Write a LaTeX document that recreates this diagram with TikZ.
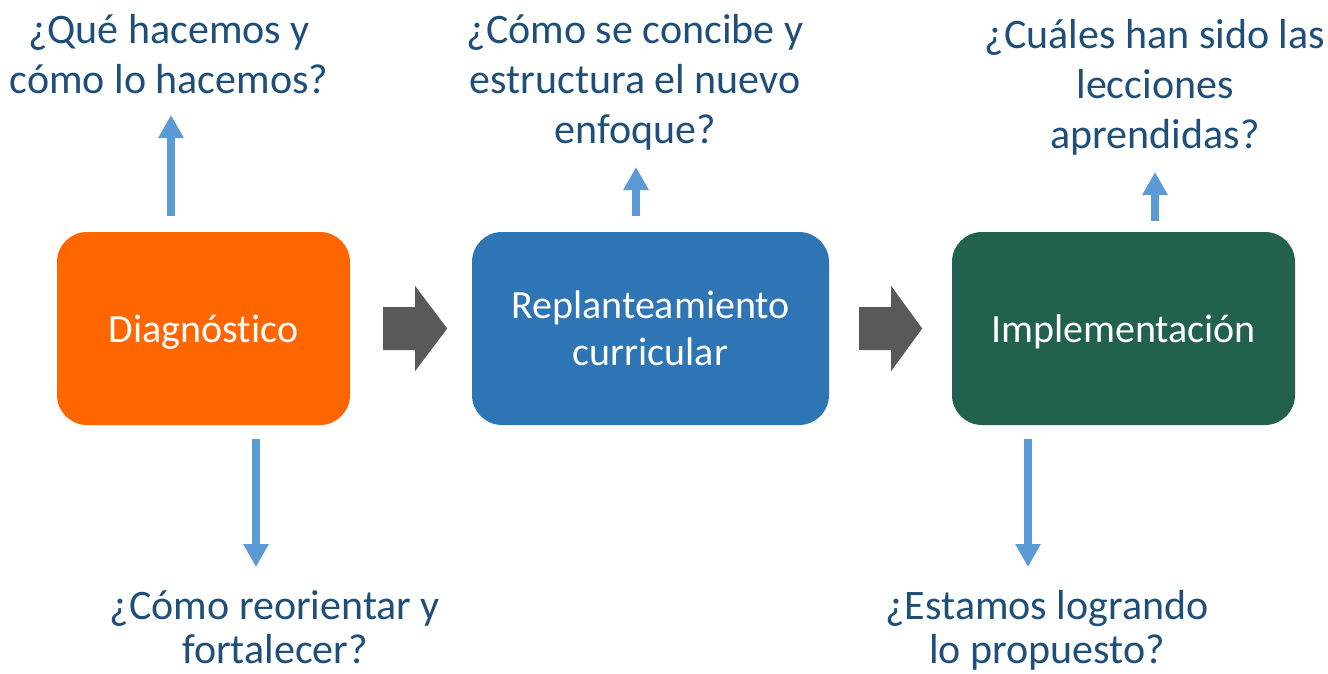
\documentclass[tikz,border=0pt]{standalone}
\usepackage{fontspec}
\setmainfont{Carlito}[Ligatures=NoCommon]
\usetikzlibrary{arrows.meta,calc}
\definecolor{orng}{HTML}{FF6600}
\definecolor{blu}{HTML}{2E75B6}
\definecolor{grn}{HTML}{21614D}
\definecolor{gry}{HTML}{595959}
\definecolor{lblu}{HTML}{5B9BD5}
\definecolor{txtb}{HTML}{1F4E79}
\begin{document}
\begin{tikzpicture}[x=1pt,y=-1pt,
  stage/.style={rounded corners=30pt, minimum height=193pt, inner sep=0pt,
    text=white, font=\fontsize{40}{47}\selectfont, align=center},
  question/.style={text=txtb, font=\fontsize{42}{50}\selectfont, align=center,
    inner sep=0pt, anchor=base},
  qarrow/.style={draw=lblu, line width=8pt, -{Triangle[width=24pt,length=23pt]}},
  flow/.style={fill=gry}]
\useasboundingbox (0,0) rectangle (1328,673);

% stages
\node[stage, fill=orng, minimum width=293pt, text height=30pt, text depth=3pt]
  (d) at (203.5,328.5) {Diagnóstico};
\node[stage, fill=blu, minimum width=357pt, text height=76pt, text depth=3pt]
  (r) at (650.5,328.5) {Replanteamiento\\curricular};
\node[stage, fill=grn, minimum width=343pt, text height=30pt, text depth=3pt]
  (m) at (1123.5,328.5) {Implementación};

% block arrows between stages
\begin{scope}[shift={(d.east)}]
  \fill[flow] (33,-21.5) -- (65,-21.5) -- (65,-42.5) -- (97,0) -- (65,42.5)
    -- (65,21.5) -- (33,21.5) -- cycle;
\end{scope}
\begin{scope}[shift={(r.east)}]
  \fill[flow] (30,-21.5) -- (62,-21.5) -- (62,-42.5) -- (93,0) -- (62,42.5)
    -- (62,21.5) -- (30,21.5) -- cycle;
\end{scope}

% questions (anchor = baseline of last line)
\node[question] (q1) at (169,93) {¿Qué hacemos y\\cómo lo hacemos?};
\node[question] (q2) at (635,143) {¿Cómo se concibe y\\estructura el nuevo\\enfoque?};
\node[question] (q3) at (1155,148) {¿Cuáles han sido las\\lecciones\\aprendidas?};
\node[question, font=\fontsize{42}{44}\selectfont] (q4) at (275,663)
  {¿Cómo reorientar y\\fortalecer?};
\node[question, font=\fontsize{42}{44}\selectfont] (q5) at (1047,663)
  {¿Estamos logrando\\lo propuesto?};

% arrow tips
\coordinate (t1) at (171,115);
\coordinate (t2) at (636,167);
\coordinate (t3) at (1155,172);
\coordinate (t4) at (256,567);
\coordinate (t5) at (1028,567);

\draw[qarrow] ($(d.north -| t1)+(0,-16)$) -- (t1);
\draw[qarrow] ($(r.north -| t2)+(0,-16)$) -- (t2);
\draw[qarrow] ($(m.north -| t3)+(0,-11)$) -- (t3);
\draw[qarrow] ($(d.south -| t4)+(0,14)$) -- (t4);
\draw[qarrow] ($(m.south -| t5)+(0,14)$) -- (t5);
\end{tikzpicture}
\end{document}
